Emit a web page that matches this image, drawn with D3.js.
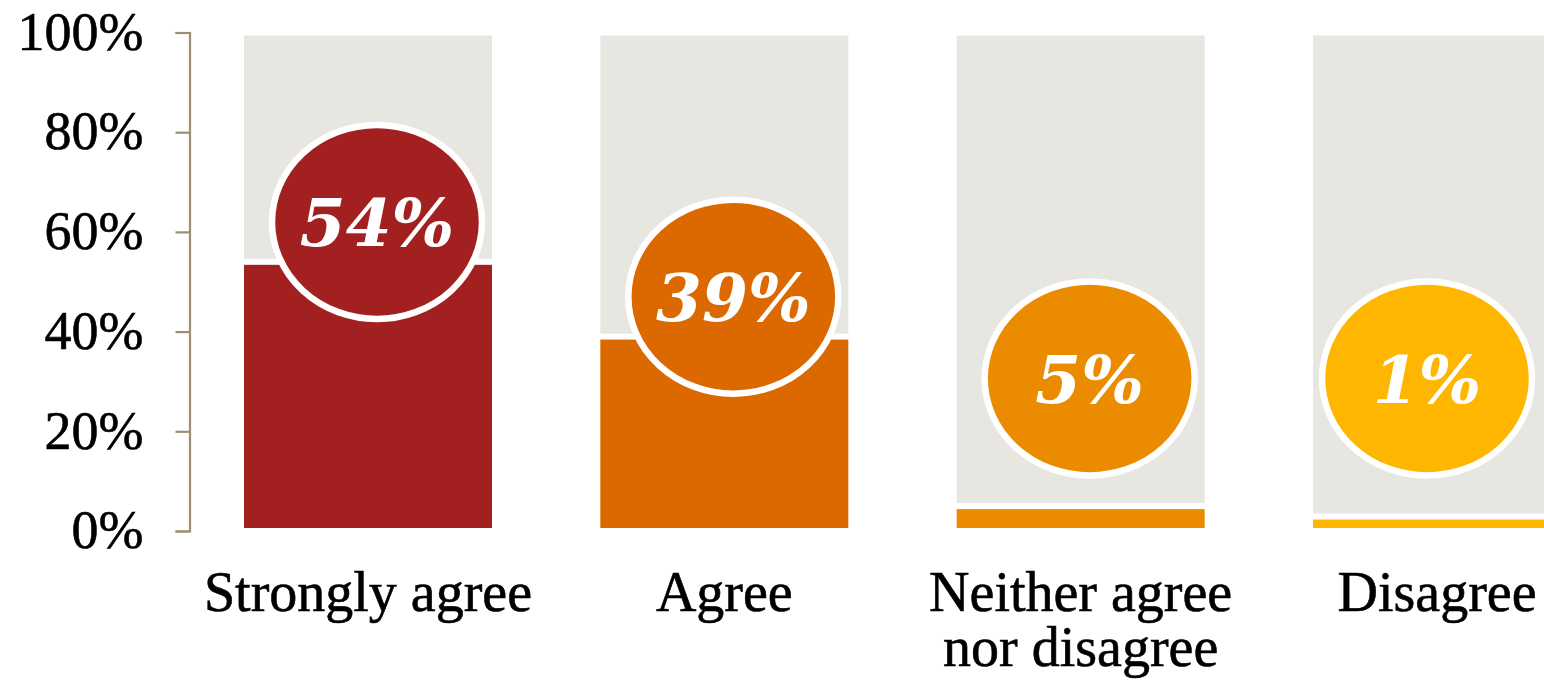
<!DOCTYPE html>
<html>
<head>
<meta charset="utf-8">
<script src="https://cdn.jsdelivr.net/npm/d3@7"></script>
<style>
  html, body { margin: 0; padding: 0; background: #fff; }
  svg { display: block; }
</style>
</head>
<body>
<svg id="chart" width="1544" height="681"></svg>
<script>
// ---- data ----
const categories = ["Strongly agree", "Agree", "Neither agree\nnor disagree", "Disagree"];
const values = [54, 39, 5, 1];
const valueLabels = ["54%", "39%", "5%", "1%"];
const barColors = ["#a32020", "#dc6900", "#eb8c00", "#ffb600"];
const yTicks = [0, 20, 40, 60, 80, 100];
const yTickLabels = ["0%", "20%", "40%", "60%", "80%", "100%"];

// ---- style constants ----
const W = 1544, H = 681;
const trackColor = "#e8e6e1";
const axisColor = "#9b8f70";
const minBarPct = 2.9;      // smallest visible bar
const badgeLift = 8;        // badge centre sits this many % above bar top
const badgeMinPct = 30.6;   // lowest badge centre
const rx = 105, ry = 97;

const svg = d3.select("#chart");

const y = d3.scaleLinear().domain([0, 100]).range([531, 32.5]);
const x = d3.scaleBand().domain(categories).range([241, 1564])
  .paddingInner(0.2872).paddingOuter(0);

// axis
const axisG = svg.append("g").attr("transform", "translate(189.5,0)")
  .call(d3.axisLeft(y).tickValues(yTicks).tickSize(14).tickPadding(32)
    .tickFormat((d, i) => yTickLabels[i]));
axisG.select(".domain").attr("stroke", axisColor).attr("stroke-width", 2.2);
axisG.selectAll(".tick line").attr("stroke", axisColor).attr("stroke-width", 2.2);
axisG.selectAll(".tick text")
  .attr("font-family", "'Liberation Serif', 'Times New Roman', serif")
  .attr("font-size", 54).attr("fill", "#000").attr("dy", "0.31em")
  .attr("stroke", "#000").attr("stroke-width", 0.6);

const data = categories.map((c, i) => ({ c, v: values[i], label: valueLabels[i], color: barColors[i] }));

// background tracks
svg.append("g").selectAll("rect").data(data).join("rect")
  .attr("x", d => x(d.c)).attr("width", x.bandwidth())
  .attr("y", y(100)).attr("height", y(0) - y(100))
  .attr("fill", trackColor).attr("stroke", "#fff").attr("stroke-width", 6);

// value bars
svg.append("g").selectAll("rect").data(data).join("rect")
  .attr("x", d => x(d.c)).attr("width", x.bandwidth())
  .attr("y", d => y(Math.max(d.v, minBarPct)))
  .attr("height", d => y(0) - y(Math.max(d.v, minBarPct)))
  .attr("fill", d => d.color).attr("stroke", "#fff").attr("stroke-width", 6);

// badges: centred on the visible part of each bar
const cxOf = d => Math.min(x(d.c) + x.bandwidth() / 2 + 9, (x(d.c) + W) / 2);
const cyOf = d => y(Math.max(d.v + badgeLift, badgeMinPct));
const badges = svg.append("g").selectAll("g").data(data).join("g");
badges.append("ellipse")
  .attr("cx", cxOf).attr("cy", cyOf).attr("rx", rx).attr("ry", ry)
  .attr("fill", d => d.color).attr("stroke", "#fff").attr("stroke-width", 6.5);
badges.append("text")
  .attr("x", cxOf).attr("y", cyOf).attr("dy", "0.37em")
  .attr("text-anchor", "middle")
  .attr("font-family", "'DejaVu Serif', serif")
  .attr("font-weight", "bold").attr("font-style", "italic")
  .attr("font-size", 66).attr("fill", "#fff")
  .text(d => d.label);

// category labels
const catG = svg.append("g");
data.forEach(d => {
  const lines = d.c.split("\n");
  const cx = x(d.c) + x.bandwidth() / 2;
  const t = catG.append("text")
    .attr("x", cx).attr("y", 611)
    .attr("text-anchor", "middle")
    .attr("font-family", "'Liberation Serif', 'Times New Roman', serif")
    .attr("font-size", 56).attr("fill", "#000")
    .attr("stroke", "#000").attr("stroke-width", 0.6);
  lines.forEach((ln, k) => {
    t.append("tspan").attr("x", cx)
      .attr("dy", k === 0 ? 0 : 55).text(ln);
  });
});
</script>
</body>
</html>
